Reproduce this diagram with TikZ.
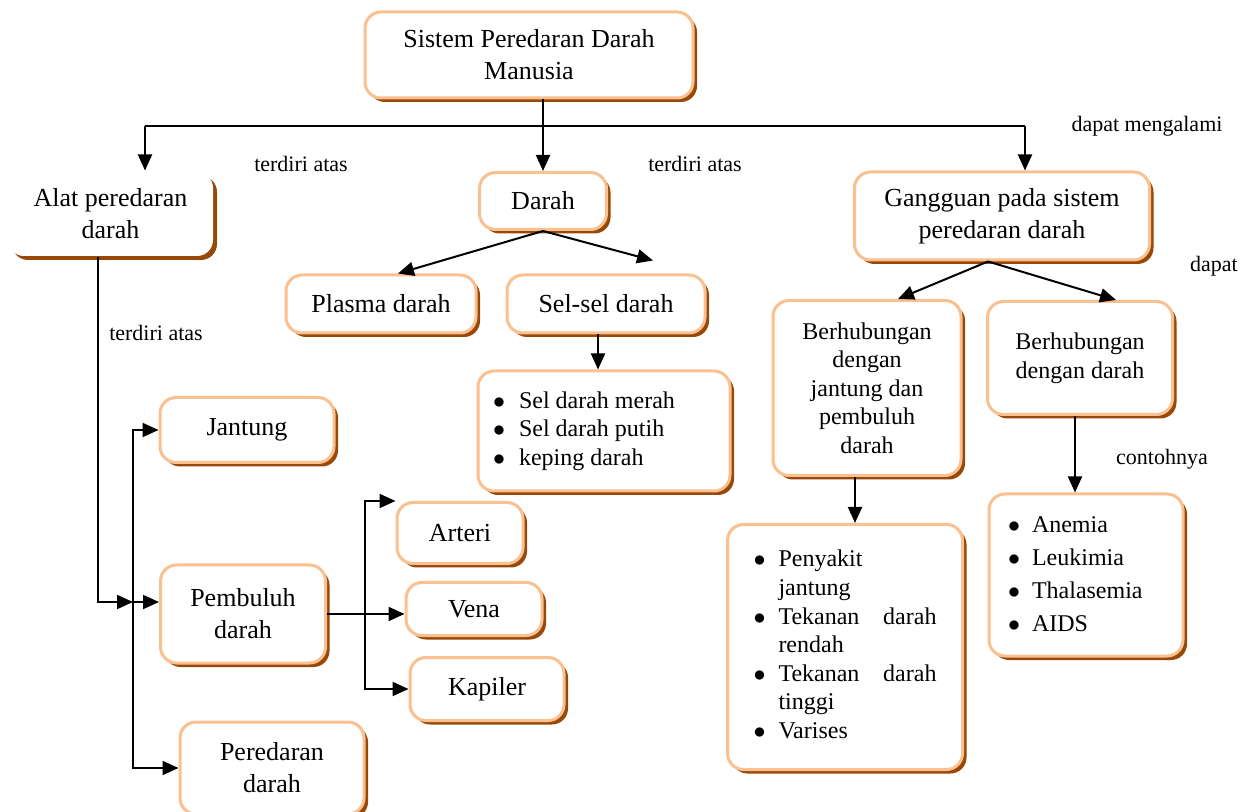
\documentclass[tikz,border=0pt]{standalone}
\usepackage{fontspec}
\setmainfont{Liberation Serif}
\usepackage{array}
\usepackage{tikz}
\usetikzlibrary{arrows.meta,positioning,shadows}
\definecolor{boxorange}{HTML}{FAC08F}
\definecolor{boxshadow}{HTML}{984807}
\newcommand{\bigtext}{\fontsize{13}{16}\selectfont}
\newcommand{\midtext}{\fontsize{12}{14.3}\selectfont}
\newcommand{\looselist}{\fontsize{12}{16.5}\selectfont}
\newcommand{\notetext}{\fontsize{11}{13}\selectfont}
\newcommand{\bul}{$\bullet$}
\tikzset{
  flowarrow/.style={-{Triangle[length=8pt,width=7pt]}, line width=1pt, draw=black},
  flowline/.style={line width=1pt, draw=black},
  conceptbox/.style={draw=boxorange, line width=1.5pt, rounded corners=8pt, fill=white,
    align=center, inner sep=2pt, font=\bigtext,
    drop shadow={shadow xshift=2pt, shadow yshift=-2pt, fill=boxshadow, opacity=1}},
  listbox/.style={conceptbox, font=\midtext, inner sep=0pt},
  linklabel/.style={font=\notetext, inner sep=1pt}
}

\begin{document}
\begin{tikzpicture}[x=0.5pt, y=-0.5pt]
  \useasboundingbox (0,0) rectangle (1243,812);

  % boxes
  \node[conceptbox, minimum width=164pt, minimum height=43pt] (sistem) at (529,55) {Sistem Peredaran Darah\\Manusia};
  \node[conceptbox, draw=none, minimum width=102.5pt, minimum height=42pt] (alat) at (110.5,214) {Alat peredaran\\darah};
  \node[conceptbox, minimum width=63.5pt, minimum height=28.5pt] (darah) at (543,201) {Darah};
  \node[conceptbox, minimum width=147.5pt, minimum height=44pt] (gangguan) at (1002,216) {Gangguan pada sistem\\peredaran darah};
  \node[conceptbox, minimum width=95pt, minimum height=29pt] (plasma) at (381,304) {Plasma darah};
  \node[conceptbox, minimum width=99pt, minimum height=29pt, right=14pt of plasma] (selsel) {Sel-sel darah};
  \node[listbox, minimum width=126pt, minimum height=60pt] (jenissel) at (604,431) {%
    \begin{tabular}{@{}p{13pt}@{}p{98pt}@{}}
      \bul & Sel darah merah\\
      \bul & Sel darah putih\\
      \bul & keping darah
    \end{tabular}};
  \node[conceptbox, font=\midtext, minimum width=94pt, minimum height=87.5pt] (hubjantung) at (867,388) {Berhubungan\\dengan\\jantung dan\\pembuluh\\darah};
  \node[conceptbox, font=\midtext, minimum width=92.5pt, minimum height=56.5pt] (hubdarah) at (1080,358) {Berhubungan\\dengan darah};
  \node[listbox, minimum width=117.5pt, minimum height=122.5pt] (penyakitjantung) at (845,647) {%
    \begin{tabular}{@{}p{12.5pt}@{}l@{}}
      \bul & Penyakit\\
           & jantung\\
      \bul & \makebox[79pt][s]{Tekanan\hfill darah}\\
           & rendah\\
      \bul & \makebox[79pt][s]{Tekanan\hfill darah}\\
           & tinggi\\
      \bul & Varises
    \end{tabular}};
  \node[listbox, font=\looselist, minimum width=97pt, minimum height=81pt] (penyakitdarah) at (1086,575) {%
    \begin{tabular}{@{}p{12pt}@{}p{66pt}@{}}
      \bul & Anemia\\
      \bul & Leukimia\\
      \bul & Thalasemia\\
      \bul & AIDS
    \end{tabular}};
  \node[conceptbox, minimum width=87pt, minimum height=32.5pt] (jantung) at (247,430) {Jantung};
  \node[conceptbox, minimum width=82.5pt, minimum height=49pt] (pembuluh) at (243,614) {Pembuluh\\darah};
  \node[conceptbox, minimum width=92pt, minimum height=46pt] (peredaran) at (272,768) {Peredaran\\darah};
  \node[conceptbox, minimum width=63pt, minimum height=30.5pt] (arteri) at (460,533) {Arteri};
  \node[conceptbox, minimum width=68pt, minimum height=26.5pt] (vena) at (474,609) {Vena};
  \node[conceptbox, minimum width=77pt, minimum height=31.5pt] (kapiler) at (487,689) {Kapiler};

  % link words
  \node[linklabel] (lbalat) at (301,164) {terdiri atas};
  \node[linklabel] (lbdarah) at (695,164) {terdiri atas};
  \node[linklabel] (lbganggu) at (1147,126) {dapat mengalami};
  \node[linklabel] (lbkomponen) at (156,333) {terdiri atas};
  \node[linklabel] (lbdapat) at (1214,266) {dapat};
  \node[linklabel] (lbcontoh) at (1162,459) {contohnya};

  % connectors
  \coordinate (cabangkiri) at (145,126);
  \coordinate (cabangkanan) at (1025,126);
  \draw[flowline] (cabangkiri) -- (cabangkanan);
  \draw[flowarrow] (cabangkiri) -- (cabangkiri |- alat.north);
  \draw[flowarrow] (cabangkanan) -- (cabangkanan |- gangguan.north);
  \draw[flowarrow] (sistem.south -| darah.north) -- (darah.north);

  \draw[flowarrow] (darah.south) -- ([xshift=8.5pt]plasma.north);
  \draw[flowarrow] (darah.south) -- ([xshift=23.5pt,yshift=6.5pt]selsel.north);
  \draw[flowarrow] ([xshift=-4pt]selsel.south) -- ([xshift=-4pt]selsel.south |- jenissel.north);

  \draw[flowarrow] ([xshift=-7pt]gangguan.south) -- ([xshift=15.5pt]hubjantung.north);
  \draw[flowarrow] ([xshift=-7pt]gangguan.south) -- ([xshift=18pt]hubdarah.north);
  \draw[flowarrow] ([xshift=-6pt]hubjantung.south) -- ([xshift=-6pt]hubjantung.south |- penyakitjantung.north);
  \draw[flowarrow] ([xshift=-2.5pt]hubdarah.south) -- ([xshift=-2.5pt]hubdarah.south |- penyakitdarah.north);

  \coordinate (simpul) at (133,602);
  \draw[flowarrow] ([xshift=-6.25pt]alat.south) |- (simpul);
  \draw[flowarrow] (simpul) -- (simpul -| pembuluh.west);
  \draw[flowarrow] (simpul) |- (jantung.west);
  \draw[flowarrow] (simpul) |- (peredaran.west);

  \coordinate (cabangpembuluh) at (365,614);
  \draw[flowarrow] (pembuluh.east) -- (pembuluh.east -| vena.west);
  \draw[flowarrow] (cabangpembuluh) |- (arteri.north west);
  \draw[flowarrow] (cabangpembuluh) |- (kapiler.west);
\end{tikzpicture}
\end{document}
